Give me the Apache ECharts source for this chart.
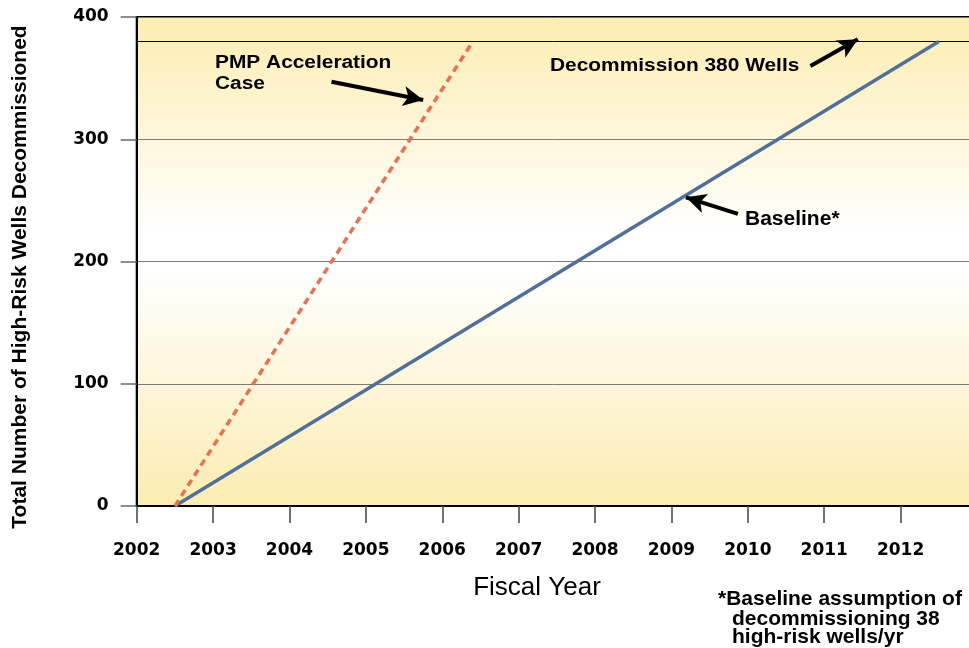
<!DOCTYPE html>
<html>
<head>
<meta charset="utf-8">
<title>High-Risk Wells Decommissioned</title>
<script src="https://cdn.jsdelivr.net/npm/echarts@6/dist/echarts.min.js"></script>
<style>
  html, body { margin: 0; padding: 0; background: #ffffff; }
  #chart { width: 969px; height: 648px; }
</style>
</head>
<body>
<div id="chart"></div>
<script>
// Fiscal-year axis range and well-count ticks
const yearRange = [2002, 2013];
const wellTicks = [0, 100, 200, 300, 400];

// Baseline: 38 high-risk wells per year
const baselineYears = [2002.5, 2012.5];
const baselineWells = [0, 380];

// PMP acceleration case
const pmpYears = [2002.5, 2006.4];
const pmpWells = [0, 380];

// Programme target
const targetWells = 380;

// Footnote text
const footnoteLines = ['*Baseline assumption of', 'decommissioning 38', 'high-risk wells/yr'];

const toPairs = (xs, ys) => xs.map((x, i) => [x, ys[i]]);

const BOLD = '"Liberation Sans", Arial, sans-serif';
const TICK_FONT = '"DejaVu Sans", sans-serif';

const chart = echarts.init(document.getElementById('chart'), null, { renderer: 'canvas' });

const arrowLine = (from, to) => [
  { coord: from, symbol: 'none' },
  { coord: to, symbol: 'arrow', symbolSize: [15, 20] }
];

// Left-aligned bold note, optionally widened
const note = (text, x, y, size, scaleX) => ({
  type: 'text', x, y, scaleX: scaleX || 1,
  style: { text, font: 'bold ' + size + 'px ' + BOLD, fill: '#000000', align: 'left', verticalAlign: 'middle' }
});

chart.setOption({
  animation: false,
  backgroundColor: '#ffffff',
  grid: {
    left: 136.7,
    top: 17,
    bottom: 142,
    right: -8,
    containLabel: false,
    outerBoundsMode: 'none',
    show: true,
    borderColor: '#000000',
    borderWidth: 2,
    backgroundColor: {
      type: 'linear', x: 0, y: 0, x2: 0, y2: 1,
      colorStops: [
        { offset: 0, color: '#fcedb0' },
        { offset: 0.45, color: '#ffffff' },
        { offset: 0.52, color: '#ffffff' },
        { offset: 1, color: '#fbecb0' }
      ]
    }
  },
  xAxis: {
    type: 'value',
    min: yearRange[0],
    max: yearRange[1],
    interval: 1,
    axisLine: { show: true, onZero: false, lineStyle: { color: '#000000', width: 2 } },
    axisTick: { show: true, inside: false, length: 17, lineStyle: { color: '#444444', width: 1.5 } },
    axisLabel: {
      show: true,
      showMaxLabel: false,
      margin: 45,
      verticalAlign: 'middle',
      color: '#000000',
      fontFamily: TICK_FONT,
      fontWeight: 'bold',
      fontSize: 17,
      formatter: v => String(Math.round(v))
    },
    splitLine: { show: false }
  },
  yAxis: {
    type: 'value',
    min: wellTicks[0],
    max: wellTicks[wellTicks.length - 1],
    interval: wellTicks[1] - wellTicks[0],
    axisLine: { show: true, lineStyle: { color: '#000000', width: 2 } },
    axisTick: { show: true, inside: false, length: 16, lineStyle: { color: '#6a6a6a', width: 1.5 } },
    axisLabel: {
      margin: 28,
      color: '#000000',
      fontFamily: TICK_FONT,
      fontWeight: 'bold',
      fontSize: 17
    },
    splitLine: { show: true, lineStyle: { color: '#7a7a7a', width: 1 } }
  },
  series: [
    {
      name: 'Baseline',
      type: 'line',
      data: toPairs(baselineYears, baselineWells),
      symbol: 'none',
      lineStyle: { color: '#50709a', width: 3.5 },
      z: 3,
      markLine: {
        silent: true,
        symbol: 'none',
        label: { show: false },
        lineStyle: { color: '#000000', width: 1, type: 'solid' },
        data: [{ yAxis: targetWells }],
        z: 2
      }
    },
    {
      name: 'PMP Acceleration Case',
      type: 'line',
      data: toPairs(pmpYears, pmpWells),
      symbol: 'none',
      lineStyle: { color: '#ec6f52', width: 3.5, type: [7, 5] },
      z: 3,
      markLine: {
        silent: true,
        label: { show: false },
        lineStyle: { color: '#000000', width: 4, type: 'solid' },
        data: [
          arrowLine([2004.55, 347.1], [2005.75, 332.1]),
          arrowLine([2010.82, 359.9], [2011.44, 381.8]),
          arrowLine([2009.87, 238.9], [2009.19, 252.5])
        ],
        z: 4
      }
    }
  ],
  graphic: [
    {
      type: 'text', x: 20.5, y: 277, rotation: Math.PI / 2,
      style: { text: 'Total Number of High-Risk Wells Decommissioned', font: 'bold 21px ' + BOLD, fill: '#000000', align: 'center', verticalAlign: 'middle' }
    },
    {
      type: 'text', x: 537, y: 588,
      style: { text: 'Fiscal Year', font: '26px ' + BOLD, fill: '#000000', align: 'center', verticalAlign: 'middle' }
    },
    note('PMP Acceleration', 215, 63, 18, 1.16),
    note('Case', 215, 84, 18, 1.16),
    note('Decommission 380 Wells', 550, 66, 19, 1.1),
    note('Baseline*', 745, 219, 20, 1.05),
    note(footnoteLines[0], 718, 599, 21),
    note(footnoteLines[1], 732, 619, 21),
    note(footnoteLines[2], 732, 637, 21)
  ]
});
</script>
</body>
</html>
